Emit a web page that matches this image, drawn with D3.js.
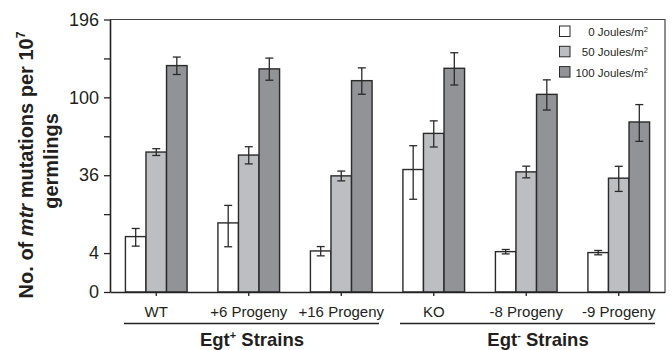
<!DOCTYPE html>
<html>
<head>
<meta charset="utf-8">
<script src="https://cdn.jsdelivr.net/npm/d3@7"></script>
<style>
  body { margin: 0; background: #fff; }
  svg { font-family: "Liberation Sans", Arial, sans-serif; }
</style>
</head>
<body>
<div id="chart"></div>
<script>
const width = 672;
const height = 350;

// strains and doses
const strains = ["WT", "+6 Progeny", "+16 Progeny", "KO", "-8 Progeny", "-9 Progeny"];
const doses = ["0", "50", "100"];
const doseColors = ["#ffffff", "#bdbec1", "#929396"];

// mean mutation counts per 10^7 germlings
const dose0 = [8.1, 12.6, 4.45, 39.6, 4.3, 4.1];
const dose50 = [51.7, 49.5, 35.6, 66.4, 38.1, 34.2];
const dose100 = [135.3, 131.4, 117.9, 132.1, 103.1, 76.3];

// error bar half widths
const err0 = [2.55, 7.2, 1.0, 16.9, 0.47, 0.45];
const err50 = [2.5, 6.2, 3.0, 10.9, 3.7, 7.5];
const err100 = [10.4, 13.0, 14.7, 19.0, 15.7, 16.4];

const yTicks = [0, 4, 16, 36, 64, 100, 144, 196];
const yLabels = [0, 4, 36, 100, 196];

const margin = {top: 19.5, right: 7, bottom: 58, left: 110};

const svg = d3.select("#chart")
    .append("svg")
    .attr("width", width)
    .attr("height", height);

const x0 = d3.scaleBand()
    .domain(strains)
    .range([margin.left, width - margin.right])
    .padding(0);

const x1 = d3.scaleBand()
    .domain(doses)
    .range([0, x0.bandwidth()])
    .paddingInner(0)
    .paddingOuter(0.75);

const y = d3.scaleSqrt()
    .domain([0, 196])
    .range([height - margin.bottom, margin.top]);

const color = d3.scaleOrdinal().domain(doses).range(doseColors);

const rows = [];
strains.forEach((s, i) => {
    [dose0, dose50, dose100].forEach((arr, j) => {
        const e = [err0, err50, err100][j][i];
        rows.push({strain: s, dose: doses[j], value: arr[i], err: e});
    });
});

// frame (top and right)
svg.append("path")
    .attr("d", `M${margin.left},${y(196)}H${width - margin.right}V${y(0)}`)
    .attr("fill", "none")
    .attr("stroke", "#444")
    .attr("stroke-width", 1.2);

// bars
svg.selectAll(".bar")
    .data(rows)
    .enter()
    .append("rect")
    .attr("class", "bar")
    .attr("x", d => x0(d.strain) + x1(d.dose))
    .attr("y", d => y(d.value))
    .attr("width", x1.bandwidth())
    .attr("height", d => y(0) - y(d.value))
    .attr("fill", d => color(d.dose))
    .attr("stroke", "#2a2a2a")
    .attr("stroke-width", 1.4);

// error bars
const eb = svg.selectAll(".err")
    .data(rows)
    .enter()
    .append("g")
    .attr("class", "err")
    .attr("stroke", "#2a2a2a")
    .attr("stroke-width", 1.3)
    .attr("transform", d => `translate(${x0(d.strain) + x1(d.dose) + x1.bandwidth() / 2},0)`);

eb.append("line")
    .attr("y1", d => y(d.value + d.err))
    .attr("y2", d => y(Math.max(0, d.value - d.err)));
eb.append("line")
    .attr("x1", -4).attr("x2", 4)
    .attr("y1", d => y(d.value + d.err))
    .attr("y2", d => y(d.value + d.err));
eb.append("line")
    .attr("x1", -4).attr("x2", 4)
    .attr("y1", d => y(Math.max(0, d.value - d.err)))
    .attr("y2", d => y(Math.max(0, d.value - d.err)));

// y axis
const yAxis = svg.append("g")
    .attr("transform", `translate(${margin.left},0)`)
    .call(d3.axisLeft(y)
        .tickValues(yTicks)
        .tickSize(6)
        .tickSizeOuter(0)
        .tickFormat(d => yLabels.includes(d) ? d : ""));
yAxis.select(".domain").attr("stroke", "#222").attr("stroke-width", 1.6);
yAxis.selectAll(".tick line").attr("stroke", "#222").attr("stroke-width", 1.3);
yAxis.selectAll(".tick text")
    .attr("x", -11)
    .attr("font-size", 18)
    .attr("font-family", "Liberation Sans, Arial, sans-serif")
    .attr("fill", "#231f20");

// x axis
const xAxis = svg.append("g")
    .attr("transform", `translate(0,${y(0)})`)
    .call(d3.axisBottom(x0).tickSize(4).tickSizeOuter(0));
xAxis.select(".domain").attr("stroke", "#222").attr("stroke-width", 1.6);
xAxis.selectAll(".tick line").attr("stroke", "#222").attr("stroke-width", 1.3);
xAxis.selectAll(".tick text")
    .attr("y", 14)
    .attr("dy", "0.71em")
    .attr("font-size", 15)
    .attr("font-family", "Liberation Sans, Arial, sans-serif")
    .attr("fill", "#231f20");

// strain group underlines and labels
const groups = [
    {label: "+", members: strains.slice(0, 3), x1: 124, x2: 379, tx: 252},
    {label: "-", members: strains.slice(3), x1: 400, x2: 655, tx: 538}
];
groups.forEach(g => {
    svg.append("line")
        .attr("x1", g.x1).attr("x2", g.x2)
        .attr("y1", 323.5).attr("y2", 323.5)
        .attr("stroke", "#222")
        .attr("stroke-width", 1.6);
    const t = svg.append("text")
        .attr("x", g.tx)
        .attr("y", 346)
        .attr("text-anchor", "middle")
        .attr("font-size", 18.5)
        .attr("font-weight", "bold")
        .attr("fill", "#231f20");
    t.append("tspan").text("Egt");
    t.append("tspan").attr("font-size", 11).attr("dy", -7).text(g.label);
    t.append("tspan").attr("dy", 7).text(" Strains");
});

// y title
const title = svg.append("g")
    .attr("transform", "translate(33,165) rotate(-90)")
    .attr("font-weight", "bold")
    .attr("font-size", 20)
    .attr("fill", "#231f20");
const t1 = title.append("text").attr("text-anchor", "middle");
t1.append("tspan").text("No. of ");
t1.append("tspan").attr("font-style", "italic").text("mtr");
t1.append("tspan").text(" mutations per 10");
t1.append("tspan").attr("font-size", 12).attr("dy", -8).text("7");
title.append("text")
    .attr("text-anchor", "middle")
    .attr("y", 25)
    .attr("x", 4)
    .text("germlings");

// legend
const legend = svg.append("g")
    .attr("font-size", 11.5)
    .attr("fill", "#231f20");
doses.forEach((d, i) => {
    const ly = 26 + i * 20.3;
    legend.append("rect")
        .attr("x", 559.5).attr("y", ly)
        .attr("width", 10.5).attr("height", 10.5)
        .attr("fill", color(d))
        .attr("stroke", "#2a2a2a")
        .attr("stroke-width", 1);
    const lt = legend.append("text")
        .attr("x", 648)
        .attr("y", ly + 10)
        .attr("text-anchor", "end");
    lt.append("tspan").text(d + " Joules/m");
    lt.append("tspan").attr("font-size", 7.5).attr("dy", -4).text("2");
});
</script>
</body>
</html>
